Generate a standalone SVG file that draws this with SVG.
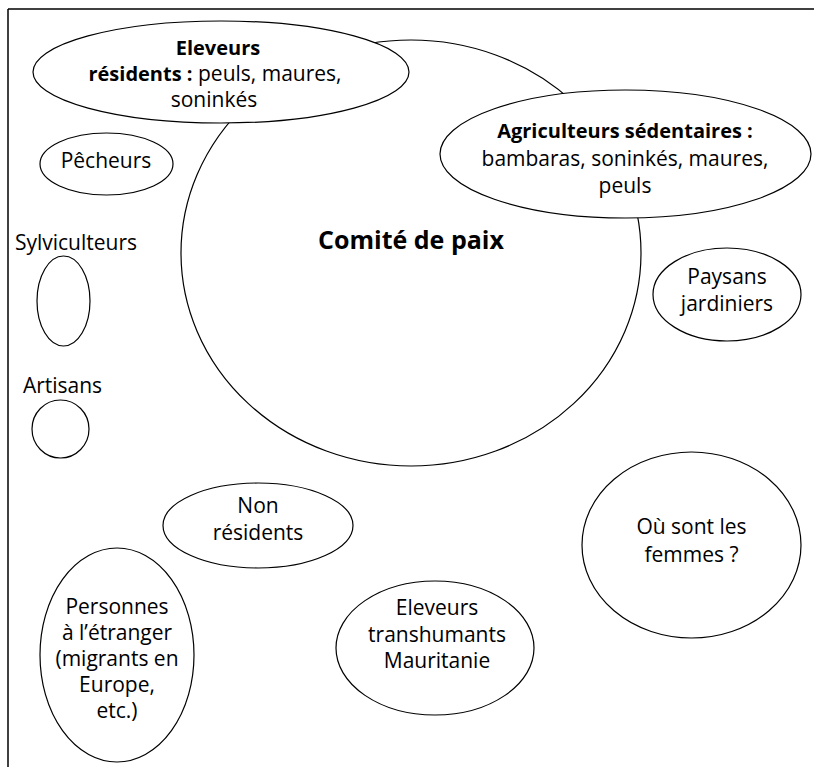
<svg xmlns="http://www.w3.org/2000/svg" width="814" height="767" viewBox="0 0 814 767">
<style>
.s{fill:#fff;stroke:#000;stroke-width:1.2}
.b{fill:none;stroke:#000;stroke-width:1.5}
text{font-family:"Open Sans","Noto Sans","Liberation Sans",sans-serif;font-size:21px;fill:#000;text-anchor:middle}
.bold{font-weight:bold}
</style>
<g id="frame">
<line class="b" x1="8" y1="9" x2="814" y2="9"/>
<line class="b" x1="8" y1="9" x2="8" y2="767"/>
</g>
<g id="connectors"></g>
<g id="comite">
<ellipse class="s" cx="411" cy="253" rx="230" ry="213"/>
<text x="411" y="249" class="bold" style="font-size:25px">Comité de paix</text>
</g>
<g id="eleveurs-residents">
<ellipse class="s" cx="221" cy="72" rx="188" ry="51"/>
<text x="218" y="55" class="bold" style="font-size:20px">Eleveurs</text>
<text x="215" y="81"><tspan class="bold" style="font-size:20px">résidents :</tspan> peuls, maures,</text>
<text x="214" y="107">soninkés</text>
</g>
<g id="agriculteurs">
<ellipse class="s" cx="625.5" cy="154" rx="185.5" ry="64"/>
<text x="625" y="138" class="bold" style="font-size:20px">Agriculteurs sédentaires :</text>
<text x="625" y="166">bambaras, soninkés, maures,</text>
<text x="625" y="193">peuls</text>
</g>
<g id="pecheurs">
<ellipse class="s" cx="106.5" cy="164" rx="66.5" ry="31"/>
<text x="106" y="168">Pêcheurs</text>
</g>
<g id="sylviculteurs">
<text x="76" y="250">Sylviculteurs</text>
<ellipse class="s" cx="63.5" cy="301" rx="26.5" ry="45"/>
</g>
<g id="artisans">
<text x="62.5" y="393">Artisans</text>
<ellipse class="s" cx="60.5" cy="429" rx="28.5" ry="29"/>
</g>
<g id="paysans">
<ellipse class="s" cx="727" cy="294.5" rx="74" ry="46.5"/>
<text x="727" y="284">Paysans</text>
<text x="727" y="311">jardiniers</text>
</g>
<g id="non-residents">
<ellipse class="s" cx="258" cy="525.5" rx="95" ry="42.5"/>
<text x="258" y="513">Non</text>
<text x="258" y="540">résidents</text>
</g>
<g id="femmes">
<ellipse class="s" cx="691.5" cy="545" rx="109.5" ry="93"/>
<text x="691.5" y="534">Où sont les</text>
<text x="691.5" y="562">femmes ?</text>
</g>
<g id="transhumants">
<ellipse class="s" cx="435" cy="648" rx="99" ry="67"/>
<text x="437" y="615">Eleveurs</text>
<text x="437" y="642">transhumants</text>
<text x="437" y="668">Mauritanie</text>
</g>
<g id="etranger">
<ellipse class="s" cx="117" cy="655" rx="77" ry="107"/>
<text x="117" y="614">Personnes</text>
<text x="117" y="640">à l’étranger</text>
<text x="117" y="666">(migrants en</text>
<text x="117" y="692">Europe,</text>
<text x="117" y="718">etc.)</text>
</g>
</svg>
